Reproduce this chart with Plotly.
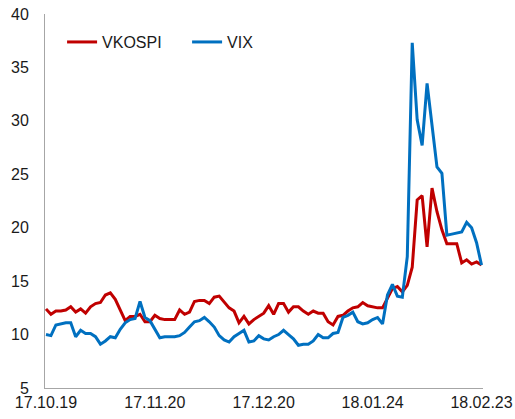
import plotly.graph_objects as go
import pandas as pd

# Trading days (market holidays dropped) and the labels shown on the x axis
holidays = ["2017-12-25", "2017-12-29", "2018-01-01"]
dates = pd.bdate_range("2017-10-19", "2018-02-23", freq="C", holidays=holidays)
categories = list(dates.strftime("%y.%m.%d"))
tick_labels = ["17.10.19", "17.11.20", "17.12.20", "18.01.24", "18.02.23"]

vkospi = [
    12.4, 11.9, 12.2, 12.2, 12.3, 12.6, 12.1, 12.4, 12.0, 12.6,
    12.9, 13.0, 13.7, 13.9, 13.3, 12.3, 11.3, 11.7, 11.7, 11.9,
    11.2, 11.2, 11.8, 11.5, 11.4, 11.4, 11.4, 12.3, 11.9, 12.1,
    13.1, 13.2, 13.2, 12.9, 13.5, 13.6, 13.0, 12.5, 12.2, 11.1,
    11.7, 11.0, 11.4, 11.7, 12.0, 12.7, 11.9, 12.9, 12.9, 12.1,
    12.6, 12.6, 12.2, 11.9, 12.2, 12.0, 12.0, 11.2, 10.9, 11.7,
    11.8, 12.2, 12.5, 12.6, 13.0, 12.7, 12.6, 12.5, 12.5, 13.4,
    14.3, 14.5, 14.0, 14.6, 16.3, 22.6, 23.0, 18.2, 23.7, 21.5,
    19.8, 18.5, 18.5, 18.5, 16.7, 17.0, 16.6, 16.8, 16.5,
]

vix = [
    10.0, 9.9, 10.9, 11.0, 11.1, 11.1, 9.8, 10.4, 10.1, 10.1,
    9.8, 9.1, 9.4, 9.8, 9.7, 10.5, 11.1, 11.4, 11.5, 13.1,
    11.6, 11.3, 10.5, 9.7, 9.8, 9.8, 9.8, 9.9, 10.2, 10.7,
    11.2, 11.3, 11.6, 11.2, 10.7, 9.9, 9.5, 9.3, 9.8, 10.1,
    10.4, 9.3, 9.4, 9.9, 9.6, 9.5, 9.8, 10.0, 10.4, 10.0,
    9.6, 9.0, 9.1, 9.1, 9.4, 10.0, 9.7, 9.7, 10.1, 10.2,
    11.6, 11.8, 12.1, 11.2, 11.0, 11.1, 11.4, 11.6, 11.0, 13.7,
    14.7, 13.6, 13.5, 17.3, 37.3, 30.1, 27.7, 33.5, 29.6, 25.7,
    25.1, 19.3, 19.4, 19.5, 19.6, 20.5, 20.0, 18.6, 16.5,
]

font_family = "Arial, Liberation Sans, sans-serif"
axis_grey = "#A6A6A6"

fig = go.Figure()
fig.add_trace(go.Scatter(x=categories, y=vkospi, mode="lines", name="VKOSPI",
                         line=dict(color="#C00000", width=3)))
fig.add_trace(go.Scatter(x=categories, y=vix, mode="lines", name="VIX",
                         line=dict(color="#0070C0", width=3)))

fig.update_layout(
    width=515, height=419,
    margin=dict(l=45, r=32, t=14, b=31),
    plot_bgcolor="white", paper_bgcolor="white",
    font=dict(family=font_family, size=16, color="#1a1a1a"),
    legend=dict(orientation="h", x=0.039, y=0.925, xanchor="left", yanchor="middle",
                bgcolor="rgba(0,0,0,0)", font=dict(size=16), itemwidth=30,
                entrywidth=80, entrywidthmode="pixels"),
    xaxis=dict(type="category", tickmode="array", tickvals=tick_labels,
               range=[-0.2, len(categories) - 0.7],
               showgrid=False, zeroline=False, showline=True,
               linecolor=axis_grey, linewidth=1, ticks="", automargin=False),
    yaxis=dict(range=[5, 40], dtick=5, showgrid=False, zeroline=False,
               showline=True, linecolor=axis_grey, linewidth=1, ticks="",
               ticklabelstandoff=12, ticklabeloverflow="allow", automargin=False),
)

# drop the default 8px page margin so the figure sits at the window's corner
fig.write_html("out.html", config={"displayModeBar": False},
               post_script="document.body.style.margin='0';")
